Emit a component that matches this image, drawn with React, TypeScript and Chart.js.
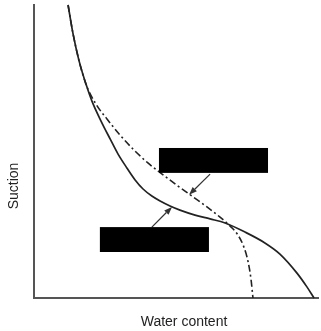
import React, { useEffect, useRef } from "react";
import { Chart, registerables } from "chart.js";

Chart.register(...registerables);

// Solid curve (water content vs suction, arbitrary 0–100 units)
const solidWater = [12.0, 13.7, 15.8, 18.3, 20.4, 23.6, 26.8, 29.6, 32.7, 35.6, 38.4, 41.5, 44.4, 47.9, 51.4, 56.7, 62.0, 67.3, 74.3, 81.3, 86.6, 92.6, 96.1, 98.6];
const solidSuction = [100, 90.4, 81.2, 73.0, 67.2, 60.4, 54.3, 49.1, 44.4, 40.3, 37.2, 34.8, 33.1, 31.4, 30.0, 28.3, 27.0, 25.6, 22.5, 18.8, 15.0, 8.5, 3.8, 0];

// Dash-dot curve
const dashWater = [12.0, 13.7, 15.8, 18.3, 21.8, 25.7, 30.3, 35.2, 40.1, 45.1, 50.7, 55.6, 60.9, 65.5, 69.0, 71.8, 73.9, 75.4, 76.4, 77.1];
const dashSuction = [100, 90.4, 81.2, 73.0, 66.2, 61.1, 55.6, 50.5, 46.1, 42.3, 38.2, 34.8, 31.1, 27.6, 24.6, 21.5, 17.4, 12.3, 6.5, 0];

// Redacted label boxes (data units)
const boxLeft = [44.0, 23.2];
const boxRight = [82.4, 61.6];
const boxTop = [51.2, 24.2];
const boxBottom = [42.7, 15.7];

// Leader arrows (data units)
const arrowFromX = [62.0, 41.5];
const arrowFromY = [42.3, 24.2];
const arrowToX = [54.6, 48.6];
const arrowToY = [35.2, 31.1];

const xAxisLabel = "Water content";
const yAxisLabel = "Suction";

const toPoints = (xs: number[], ys: number[]) => xs.map((x, i) => ({ x, y: ys[i] }));

const overlayPlugin = {
  id: "overlay",
  afterDatasetsDraw(chart: any) {
    const { ctx, scales } = chart;
    const x = scales.x;
    const y = scales.y;
    ctx.save();
    // arrows
    ctx.strokeStyle = "#333";
    ctx.fillStyle = "#333";
    ctx.lineWidth = 1.2;
    for (let i = 0; i < arrowFromX.length; i++) {
      const x1 = x.getPixelForValue(arrowFromX[i]);
      const y1 = y.getPixelForValue(arrowFromY[i]);
      const x2 = x.getPixelForValue(arrowToX[i]);
      const y2 = y.getPixelForValue(arrowToY[i]);
      const ang = Math.atan2(y2 - y1, x2 - x1);
      const len = 8;
      const hw = 3;
      const bx = x2 - Math.cos(ang) * len;
      const by = y2 - Math.sin(ang) * len;
      ctx.beginPath();
      ctx.moveTo(x1, y1);
      ctx.lineTo(bx, by);
      ctx.stroke();
      ctx.beginPath();
      ctx.moveTo(x2, y2);
      ctx.lineTo(bx - Math.sin(ang) * hw, by + Math.cos(ang) * hw);
      ctx.lineTo(bx + Math.sin(ang) * hw, by - Math.cos(ang) * hw);
      ctx.closePath();
      ctx.fill();
    }
    // boxes
    ctx.fillStyle = "#000";
    for (let i = 0; i < boxLeft.length; i++) {
      const l = x.getPixelForValue(boxLeft[i]);
      const r = x.getPixelForValue(boxRight[i]);
      const t = y.getPixelForValue(boxTop[i]);
      const b = y.getPixelForValue(boxBottom[i]);
      ctx.fillRect(l, t, r - l, b - t);
    }
    ctx.restore();
  },
  afterDraw(chart: any) {
    const { ctx, chartArea } = chart;
    ctx.save();
    ctx.fillStyle = "#222";
    ctx.font = "14px 'Liberation Sans', Arial, sans-serif";
    ctx.textAlign = "center";
    ctx.textBaseline = "middle";
    ctx.fillText(xAxisLabel, chartArea.left + 150, chartArea.bottom + 24);
    ctx.translate(chartArea.left - 20, chartArea.top + 181);
    ctx.rotate(-Math.PI / 2);
    ctx.fillText(yAxisLabel, 0, 0);
    ctx.restore();
  },
};

export default function App() {
  const ref = useRef<HTMLCanvasElement>(null);
  useEffect(() => {
    if (!ref.current) return;
    const chart = new Chart(ref.current, {
      type: "line",
      data: {
        datasets: [
          {
            label: "solid",
            data: toPoints(solidWater, solidSuction),
            borderColor: "#222",
            borderWidth: 1.7,
            pointRadius: 0,
            cubicInterpolationMode: "monotone",
            fill: false,
          },
          {
            label: "dash-dot",
            data: toPoints(dashWater, dashSuction),
            borderColor: "#222",
            borderWidth: 1.6,
            borderDash: [7, 3, 2, 3],
            pointRadius: 0,
            cubicInterpolationMode: "monotone",
            fill: false,
          },
        ],
      },
      options: {
        animation: false,
        responsive: false,
        maintainAspectRatio: false,
        clip: false as any,
        layout: { padding: { top: 5, right: 3, left: 0, bottom: 0 } },
        plugins: { legend: { display: false }, tooltip: { enabled: false } },
        scales: {
          x: {
            type: "linear",
            min: 0,
            max: 100,
            ticks: { display: false },
            grid: { display: false },
            border: { display: true, color: "#555", width: 2 },
            afterFit: (s: any) => {
              s.height = 33;
            },
          },
          y: {
            type: "linear",
            min: 0,
            max: 100,
            ticks: { display: false },
            grid: { display: false },
            border: { display: true, color: "#555", width: 2 },
            afterFit: (s: any) => {
              s.width = 34;
            },
          },
        },
      },
      plugins: [overlayPlugin],
    });
    return () => chart.destroy();
  }, []);
  return (
    <div style={{ position: "fixed", left: 0, top: 0, width: 321, height: 331, background: "#fff" }}>
      <canvas ref={ref} width={321} height={331} style={{ display: "block" }} />
    </div>
  );
}
